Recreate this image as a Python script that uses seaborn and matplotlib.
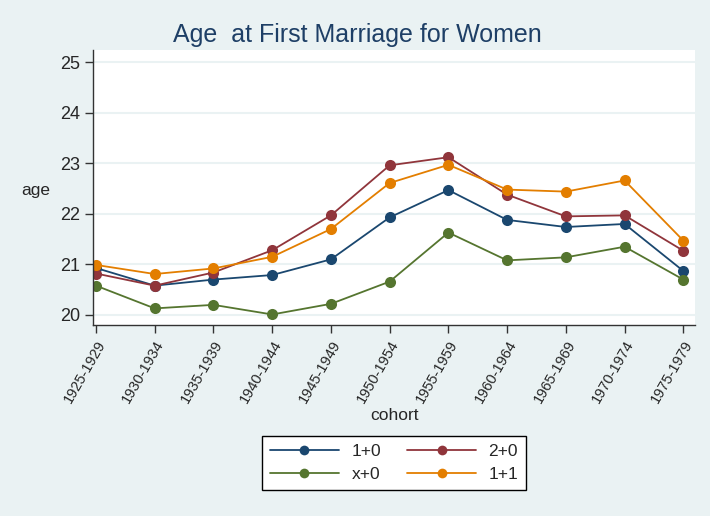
import numpy as np
import pandas as pd
import seaborn as sns
import matplotlib.pyplot as plt

cohorts = ["1925-1929", "1930-1934", "1935-1939", "1940-1944", "1945-1949",
           "1950-1954", "1955-1959", "1960-1964", "1965-1969", "1970-1974", "1975-1979"]
one_zero = [20.93, 20.58, 20.70, 20.79, 21.10, 21.93, 22.47, 21.88, 21.74, 21.80, 20.87]
two_zero = [20.82, 20.58, 20.84, 21.28, 21.97, 22.96, 23.12, 22.38, 21.95, 21.97, 21.27]
x_zero = [20.58, 20.13, 20.20, 20.01, 20.22, 20.66, 21.63, 21.08, 21.14, 21.35, 20.70]
one_one = [20.99, 20.81, 20.92, 21.15, 21.70, 22.61, 22.97, 22.48, 22.44, 22.66, 21.47]

series = {"1+0": one_zero, "2+0": two_zero, "x+0": x_zero, "1+1": one_one}
colors = {"1+0": "#1a476f", "2+0": "#90353b", "x+0": "#55752f", "1+1": "#e37e00"}

df = pd.DataFrame([
    {"pos": i, "cohort": c, "age": v, "group": g}
    for g, vals in series.items() for i, (c, v) in enumerate(zip(cohorts, vals))
])

sns.set_style("ticks")
plt.rcParams["font.family"] = ["Liberation Sans", "DejaVu Sans"]

bg = "#eaf2f3"
fig = plt.figure(figsize=(7.1, 5.16), dpi=100, facecolor=bg)
ax = fig.add_axes([0.131, 0.370, 0.848, 0.533])
ax.set_facecolor("white")

sns.lineplot(data=df, x="pos", y="age", hue="group", palette=colors,
             marker="o", markersize=8, markeredgewidth=0, linewidth=1.3,
             ax=ax, legend=False)

ax.set_xlim(-0.05, 10.2)
ax.set_ylim(19.8, 25.24)
ax.set_yticks([20, 21, 22, 23, 24, 25])
ax.set_xticks(range(len(cohorts)))
ax.set_xticklabels(cohorts, rotation=60, ha="right", rotation_mode="anchor", fontsize=10.5)
ax.tick_params(axis="y", labelsize=13, length=6, width=1, direction="out",
               color="#333333", pad=3)
ax.tick_params(axis="x", length=6, width=1, direction="out", color="#333333", pad=3)
ax.yaxis.grid(True, color=bg, linewidth=1.5)
ax.set_axisbelow(True)
for s in ["top", "right"]:
    ax.spines[s].set_visible(False)
for s in ["left", "bottom"]:
    ax.spines[s].set_color("#333333")
    ax.spines[s].set_linewidth(1)

ax.set_ylabel("age", rotation=0, fontsize=12.5, va="center", ha="center")
ax.yaxis.set_label_coords(-0.095, 0.49)
ax.set_xlabel("cohort", fontsize=12.5, labelpad=2)
fig.suptitle("Age  at First Marriage for Women", fontsize=18, color="#1e3f66",
             x=0.503, y=0.932, va="center")

order = ["1+0", "x+0", "2+0", "1+1"]
handles = [plt.Line2D([], [], color=colors[g], marker="o", markersize=7,
                      markeredgewidth=0, linewidth=1.3) for g in order]
leg = fig.legend(handles, order, ncol=2, loc="center", bbox_to_anchor=(0.555, 0.103),
                 frameon=True, fancybox=False, fontsize=12.5, handlelength=4.0,
                 handletextpad=0.7, columnspacing=1.5, borderpad=0.45,
                 labelspacing=0.45, framealpha=1, facecolor="white")
leg.get_frame().set_edgecolor("black")
leg.get_frame().set_linewidth(1)

fig.savefig("out.png", dpi=100, facecolor=bg)
